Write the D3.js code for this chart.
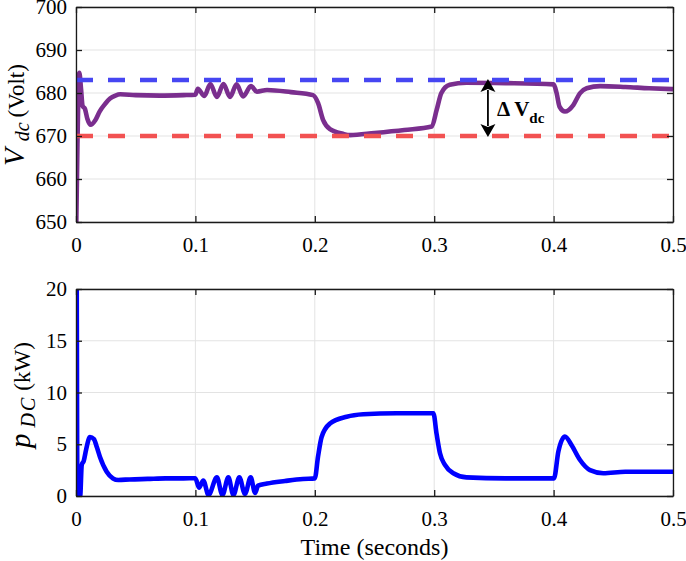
<!DOCTYPE html>
<html>
<head>
<meta charset="utf-8">
<script src="https://cdn.jsdelivr.net/npm/d3@7"></script>
<style>
  body { margin: 0; background: #fff; }
  svg text { font-family: "Liberation Serif", "Times New Roman", serif; fill: #000; }
</style>
</head>
<body>
<div id="chart"></div>
<script>
// time axis ticks
var xTicks = [0, 0.1, 0.2, 0.3, 0.4, 0.5];
var vTicks = [650, 660, 670, 680, 690, 700];
var pTicks = [0, 5, 10, 15, 20];

// DC link voltage (Volt)
var vTime = [0, 0.0012, 0.0028, 0.0042, 0.0055, 0.0075, 0.0095, 0.0123, 0.016, 0.02, 0.0245, 0.0285, 0.033, 0.037,
  0.05, 0.07, 0.09, 0.1, 0.102, 0.1075, 0.1125, 0.118, 0.1235, 0.129, 0.1345, 0.140, 0.1465, 0.1515,
  0.16, 0.18, 0.1985, 0.2027, 0.207, 0.2127, 0.2236, 0.2295, 0.25, 0.275, 0.298, 0.302, 0.306, 0.313,
  0.327, 0.36, 0.4, 0.4025, 0.405, 0.4095, 0.4165, 0.422, 0.4277, 0.439, 0.46, 0.48, 0.5];
var vdc = [645, 668, 684.7, 681, 677, 676.3, 674, 672.6, 673.6, 675.8, 677.5, 678.7, 679.4, 679.7,
  679.5, 679.4, 679.5, 679.6, 681.0, 679.3, 682.1, 679.1, 682.1, 679.1, 682.0, 679.2, 681.6, 680.3,
  680.7, 680.2, 679.5, 677.7, 673.7, 671.6, 670.5, 670.2, 670.7, 671.4, 672.2, 676, 680, 681.9,
  682.4, 682.3, 682.0, 680, 676.8, 675.7, 677.2, 679.9, 681.1, 681.6, 681.4, 681.1, 680.9];

// reference levels
var vMax = 683;
var vMin = 670;

// DC power (kW)
var pTime = [0, 0.0004, 0.0012, 0.0035, 0.0048, 0.0065, 0.0085, 0.0117, 0.015, 0.0175, 0.02, 0.0257, 0.031, 0.0354,
  0.045, 0.06, 0.075, 0.09, 0.1, 0.103, 0.1066, 0.111, 0.118, 0.1226, 0.1276, 0.1318, 0.1368, 0.1415, 0.1463,
  0.15, 0.1525, 0.16, 0.175, 0.19, 0.2, 0.2027, 0.2057, 0.2127, 0.2267, 0.2406, 0.2686, 0.2993, 0.302,
  0.3049, 0.309, 0.316, 0.327, 0.36, 0.4003, 0.404, 0.4095, 0.4151, 0.422, 0.4305, 0.4416, 0.46, 0.48, 0.5];
var pdc = [0, 25, 0, 0, 3.0, 3.4, 4.5, 5.7, 5.5, 4.7, 3.8, 2.35, 1.7, 1.55,
  1.6, 1.65, 1.7, 1.7, 1.72, 0.8, 1.5, 0.1, 1.8, 0.1, 1.8, 0.1, 1.8, 0.2, 1.8,
  0.3, 1.0, 1.2, 1.45, 1.65, 1.7, 3.8, 5.7, 7.0, 7.66, 7.9, 8.0, 8.0, 6.0,
  4.1, 3.0, 2.2, 1.8, 1.7, 1.7, 4.3, 5.75, 4.9, 3.5, 2.5, 2.2, 2.35, 2.35, 2.35];

var W = 686, H = 561;
var left = 76, right = 673;
var width = right - left;

var svg = d3.select("#chart").append("svg")
    .attr("width", W)
    .attr("height", H);

var x = d3.scaleLinear().domain([0, 0.5]).range([0, width]);

function panel(top, bottom, yDomain, yTicks, id) {
    var h = bottom - top;
    var g = svg.append("g").attr("transform", "translate(" + left + "," + top + ")");
    var y = d3.scaleLinear().domain(yDomain).range([h, 0]);

    g.append("clipPath").attr("id", id)
      .append("rect").attr("x", 0).attr("y", 0).attr("width", width).attr("height", h);

    // grid
    g.selectAll(".gx").data(xTicks).enter().append("line")
        .attr("x1", function(d) { return x(d); }).attr("x2", function(d) { return x(d); })
        .attr("y1", 0).attr("y2", h)
        .style("stroke", "#e3e3e3").style("stroke-width", 1);
    g.selectAll(".gy").data(yTicks).enter().append("line")
        .attr("x1", 0).attr("x2", width)
        .attr("y1", function(d) { return y(d); }).attr("y2", function(d) { return y(d); })
        .style("stroke", "#e3e3e3").style("stroke-width", 1);

    return { g: g, y: y, h: h, ticks: yTicks };
}

function frame(p) {
    var g = p.g, y = p.y, h = p.h;
    g.append("g").attr("transform", "translate(0," + h + ")")
        .call(d3.axisBottom(x).tickValues(xTicks).tickFormat(function(d) { return String(d); })
              .tickSizeInner(-6).tickSizeOuter(0).tickPadding(15));
    g.append("g").call(d3.axisTop(x).tickValues(xTicks).tickFormat("")
              .tickSizeInner(-6).tickSizeOuter(0));
    g.append("g")
        .call(d3.axisLeft(y).tickValues(p.ticks).tickSizeInner(-6).tickSizeOuter(0).tickPadding(9));
    g.append("g").attr("transform", "translate(" + width + ",0)")
        .call(d3.axisRight(y).tickValues(p.ticks).tickFormat("").tickSizeInner(-6).tickSizeOuter(0));
    g.selectAll(".domain").style("stroke", "#1a1a1a").style("stroke-width", 1.3);
    g.selectAll(".tick line").style("stroke", "#1a1a1a").style("stroke-width", 1.3);
    g.selectAll(".tick text").style("font-family", "Liberation Serif").style("font-size", "21px").style("fill", "#000");
}

var line = d3.line().curve(d3.curveMonotoneX);

// ---- top panel: Vdc
var p1 = panel(7, 222, [650, 700], vTicks, "clip1");
var v = vTime.map(function(t, i) { return [x(t), p1.y(vdc[i])]; });
p1.g.append("path")
    .attr("clip-path", "url(#clip1)")
    .attr("d", line(v))
    .style("fill", "none")
    .style("stroke", "#7a2e8e")
    .style("stroke-width", 4.6)
    .style("stroke-linejoin", "round");

p1.g.append("line")
    .attr("x1", x(0)).attr("x2", x(0.5))
    .attr("y1", p1.y(vMax)).attr("y2", p1.y(vMax))
    .style("stroke", "#4646f2").style("stroke-width", 4.5).style("stroke-dasharray", "17,15");
p1.g.append("line")
    .attr("x1", x(0)).attr("x2", x(0.5))
    .attr("y1", p1.y(vMin)).attr("y2", p1.y(vMin))
    .style("stroke", "#f25252").style("stroke-width", 4.5).style("stroke-dasharray", "17,15");

// delta V annotation
var ax0 = x(0.345), yTop = p1.y(vMax), yBot = p1.y(vMin);
p1.g.append("line")
    .attr("x1", ax0).attr("x2", ax0).attr("y1", yTop + 10).attr("y2", yBot - 10)
    .style("stroke", "#000").style("stroke-width", 1.8);
p1.g.append("path")
    .attr("d", "M" + ax0 + "," + (yTop - 1) + "L" + (ax0 - 7.5) + "," + (yTop + 12) + "L" + ax0 + "," + (yTop + 9) +
               "L" + (ax0 + 7.5) + "," + (yTop + 12) + "Z")
    .style("fill", "#000");
p1.g.append("path")
    .attr("d", "M" + ax0 + "," + (yBot + 1) + "L" + (ax0 - 7.5) + "," + (yBot - 12) + "L" + ax0 + "," + (yBot - 9) +
               "L" + (ax0 + 7.5) + "," + (yBot - 12) + "Z")
    .style("fill", "#000");
var dv = p1.g.append("text")
    .attr("x", ax0 + 9)
    .attr("y", (yTop + yBot) / 2 + 8)
    .style("font-size", "21px")
    .style("font-weight", "bold");
dv.append("tspan").text("\u0394 V");
dv.append("tspan").attr("dy", 7).style("font-size", "15px").text("dc");

frame(p1);

// ---- bottom panel: pDC
var p2 = panel(289, 496, [0, 20], pTicks, "clip2");
var pp = pTime.map(function(t, i) { return [x(t), p2.y(pdc[i])]; });
p2.g.append("path")
    .attr("clip-path", "url(#clip2)")
    .attr("d", line(pp))
    .style("fill", "none")
    .style("stroke", "#0000ff")
    .style("stroke-width", 4.6)
    .style("stroke-linejoin", "round");

frame(p2);

// axis titles
var t1 = svg.append("text")
    .attr("transform", "translate(24,166) rotate(-90)")
    .style("text-anchor", "start")
    .style("font-size", "23px");
t1.append("tspan").style("font-style", "italic").style("font-size", "29px").text("V");
t1.append("tspan").attr("dx", 7).attr("dy", 5).style("font-style", "italic").style("font-size", "20px").text("dc");
t1.append("tspan").attr("dx", 5).attr("dy", -5).text("(Volt)");

var t2 = svg.append("text")
    .attr("transform", "translate(30,448) rotate(-90)")
    .style("text-anchor", "start")
    .style("font-size", "23px");
t2.append("tspan").style("font-style", "italic").style("font-size", "29px").text("p");
t2.append("tspan").attr("dx", 6).attr("dy", 5).style("font-style", "italic").style("font-size", "20px")
    .style("letter-spacing", "2px").text("DC");
t2.append("tspan").attr("dx", 5).attr("dy", -5).text("(kW)");

svg.append("text")
    .attr("x", left + width / 2)
    .attr("y", 555)
    .style("text-anchor", "middle")
    .style("font-size", "24px")
    .text("Time (seconds)");
</script>
</body>
</html>
